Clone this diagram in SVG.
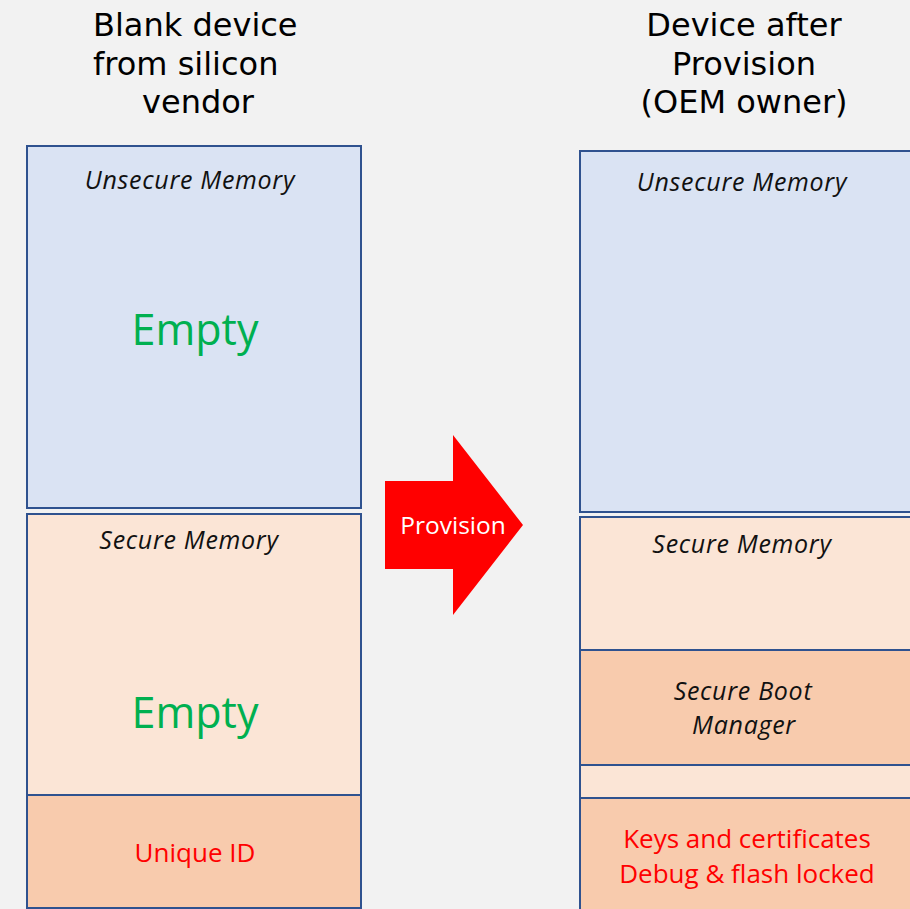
<svg xmlns="http://www.w3.org/2000/svg" width="910" height="909" viewBox="0 0 910 909">
  <style>
    .title { font-family: "DejaVu Sans", "Open Sans", sans-serif; font-size: 32px; fill: #000; }
    .mid { text-anchor: middle; }
    .region { font-family: "Open Sans", "Noto Sans", sans-serif; font-style: italic; font-size: 25px; letter-spacing: 0.7px; fill: #111; text-anchor: middle; }
    .empty { font-family: "Open Sans", "Noto Sans", sans-serif; font-size: 43px; fill: #00B050; text-anchor: middle; }
    .red { font-family: "Open Sans", "Noto Sans", sans-serif; font-size: 26px; fill: #FF0000; text-anchor: middle; }
    .arrowtext { font-family: "Open Sans", "Noto Sans", sans-serif; font-size: 24.5px; fill: #FFFFFF; text-anchor: middle; }
    .box { stroke: #2F528F; stroke-width: 2; }
    .blue { fill: #DAE3F3; }
    .light { fill: #FBE5D6; }
    .dark { fill: #F8CBAD; }
  </style>

  <rect x="0" y="0" width="910" height="909" fill="#F2F2F2"/>

  <!-- Column headings -->
  <g id="title-blank">
    <text class="title" x="93" y="36">Blank device</text>
    <text class="title" x="93" y="75">from silicon</text>
    <text class="title" x="142" y="113">vendor</text>
  </g>
  <g id="title-provisioned">
    <text class="title mid" x="744" y="36">Device after</text>
    <text class="title mid" x="744" y="75">Provision</text>
    <text class="title mid" x="744" y="113">(OEM owner)</text>
  </g>

  <!-- Blank device memory map -->
  <g id="blank-unsecure">
    <rect class="box blue" x="27" y="146" width="334" height="362"/>
    <text class="region" x="190" y="189">Unsecure Memory</text>
    <text class="empty" x="195" y="345">Empty</text>
  </g>
  <g id="blank-secure">
    <rect class="box light" x="27" y="514" width="334" height="281"/>
    <text class="region" x="189" y="549">Secure Memory</text>
    <text class="empty" x="195" y="728">Empty</text>
  </g>
  <g id="blank-uid">
    <rect class="box dark" x="27" y="795" width="334" height="113"/>
    <text class="red" x="195" y="862">Unique ID</text>
  </g>

  <!-- Provisioned device memory map -->
  <g id="prov-unsecure">
    <rect class="box blue" x="580" y="151" width="340" height="361"/>
    <text class="region" x="742" y="191">Unsecure Memory</text>
  </g>
  <g id="prov-secure">
    <rect class="box light" x="580" y="517" width="340" height="133"/>
    <text class="region" x="742" y="553">Secure Memory</text>
  </g>
  <g id="prov-sbm">
    <rect class="box dark" x="580" y="650" width="340" height="115"/>
    <text class="region" x="743" y="700">Secure Boot</text>
    <text class="region" x="744" y="734">Manager</text>
  </g>
  <g id="prov-gap">
    <rect class="box light" x="580" y="765" width="340" height="33"/>
  </g>
  <g id="prov-keys">
    <rect class="box dark" x="580" y="798" width="340" height="130"/>
    <text class="red" x="747" y="848">Keys and certificates</text>
    <text class="red" x="747" y="883">Debug &amp; flash locked</text>
  </g>

  <!-- Provisioning step -->
  <g id="connectors">
    <g id="provision-arrow">
      <polygon points="385,481 453,481 453,435 523,525 453,615 453,569 385,569" fill="#FF0000"/>
      <text class="arrowtext" x="453" y="534">Provision</text>
    </g>
  </g>
</svg>
